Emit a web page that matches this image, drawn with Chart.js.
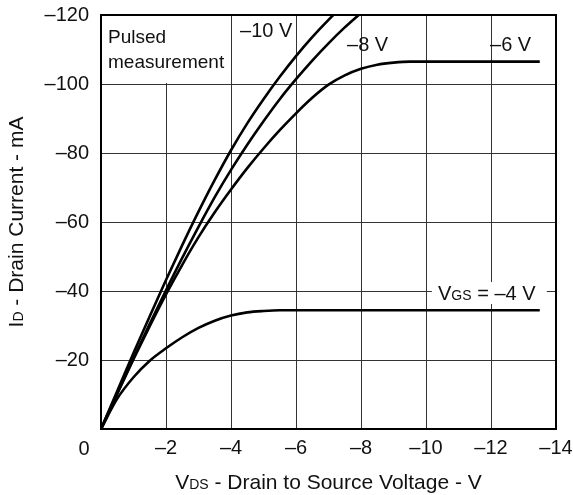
<!DOCTYPE html>
<html>
<head>
<meta charset="utf-8">
<script src="https://cdn.jsdelivr.net/npm/chart.js@4/dist/chart.umd.min.js"></script>
<style>
  html, body { margin: 0; padding: 0; background: #fff; }
  #wrap { width: 573px; height: 495px; }
</style>
</head>
<body>
<div id="wrap"><canvas id="ids"></canvas></div>
<script>
// V_DS (V) and I_D (mA)
const vds10 = [0, -0.5, -1, -1.5, -2, -2.5, -3, -3.5, -4, -4.5, -5, -5.5, -6, -6.5, -7, -7.5]
const id10 = [0, -11, -22, -32.7, -43.2, -53.3, -63, -72.2, -80.8, -88.6, -95.6, -102.1, -108.1, -113.6, -118.6, -123.2]

const vds8 = [0, -0.5, -1, -1.5, -2, -2.5, -3, -3.5, -4, -4.5, -5, -5.5, -6, -6.5, -7, -7.5, -8]
const id8 = [0, -10.3, -20.5, -30.5, -40.2, -49.6, -58.6, -67.2, -75.1, -82.4, -89.2, -95.6, -101.4, -106.8, -111.8, -116.4, -120.6]

const vds6 = [0, -0.5, -1, -1.5, -2, -2.5, -3, -3.5, -4, -4.5, -5, -5.5, -6, -6.5, -7, -7.5, -8, -8.5, -9, -9.5, -13.5]
const id6 = [0, -10.2, -20.2, -29.8, -39, -47.6, -55.6, -62.8, -69.4, -75.6, -81.3, -86.6, -91.5, -96, -99.8, -102.5, -104.4, -105.6, -106.2, -106.5, -106.5]

const vds4 = [0, -0.5, -1, -1.5, -2, -2.5, -3, -3.5, -4, -4.5, -5, -5.5, -6, -13.5]
const id4 = [0, -8.8, -15, -19.8, -23.4, -26.6, -29.3, -31.4, -32.9, -33.8, -34.2, -34.4, -34.4, -34.4]

const xTicks = [0, -2, -4, -6, -8, -10, -12, -14]
const yTicks = [-20, -40, -60, -80, -100, -120]

const FONT = "'Liberation Sans', Arial, sans-serif"
const dash = v => (v === 0 ? '0' : '\u2013' + Math.abs(v))

const pts = (xs, ys) => xs.map((x, i) => ({ x: x, y: ys[i] }))
const curve = (label, xs, ys) => ({
  label: label,
  data: pts(xs, ys),
  borderColor: '#000',
  borderWidth: 2.6,
  pointRadius: 0,
  fill: false,
  cubicInterpolationMode: 'monotone',
})

// text with a smaller subscript part, e.g. V + DS
function subText(ctx, parts, x, y, align) {
  let w = 0
  parts.forEach(p => { ctx.font = p[1] + 'px ' + FONT; w += ctx.measureText(p[0]).width })
  let cx = align === 'center' ? x - w / 2 : x
  ctx.textAlign = 'left'
  parts.forEach(p => {
    ctx.font = p[1] + 'px ' + FONT
    ctx.fillText(p[0], cx, y)
    cx += ctx.measureText(p[0]).width
  })
}

// labels may hang over the plot edges, like in the print
const noOverhang = s => {
  s.paddingTop = 0
  s.paddingBottom = 0
  s.paddingLeft = 0
  s.paddingRight = 0
}

const notes = {
  id: 'notes',
  beforeDatasetsDraw(chart) {
    const { ctx, chartArea: a, scales: { x, y } } = chart
    ctx.save()
    ctx.fillStyle = '#fff'
    // box behind "Pulsed measurement"
    ctx.fillRect(a.left, a.top, x.getPixelForValue(-3.95) - a.left, y.getPixelForValue(-100.3) - a.top)
    // box behind the V_GS label
    ctx.fillRect(x.getPixelForValue(-10.18), y.getPixelForValue(-42.6), 115, 22)
    ctx.restore()
  },
  afterDraw(chart) {
    const { ctx, chartArea: a, scales: { x, y } } = chart
    ctx.save()
    // frame
    ctx.strokeStyle = '#000'
    ctx.lineWidth = 2
    ctx.strokeRect(a.left, a.top, a.right - a.left, a.bottom - a.top)

    ctx.fillStyle = '#111'
    ctx.textBaseline = 'middle'
    ctx.textAlign = 'left'
    ctx.font = '19px ' + FONT
    ctx.fillText('Pulsed', a.left + 7, a.top + 23)
    ctx.fillText('measurement', a.left + 7, a.top + 48)

    ctx.font = '20px ' + FONT
    ctx.fillText('\u201310 V', x.getPixelForValue(-4.28), y.getPixelForValue(-115.1))
    ctx.fillText('\u20138 V', x.getPixelForValue(-7.57), y.getPixelForValue(-111.3))
    ctx.fillText('\u20136 V', x.getPixelForValue(-11.97), y.getPixelForValue(-111.3))

    ctx.textBaseline = 'alphabetic'
    const gy = y.getPixelForValue(-39.4) + 7
    subText(ctx, [['V', 20], ['GS', 14], [' = \u20134 V', 20]], x.getPixelForValue(-10.37), gy, 'left')

    // origin label, set apart from the axis
    ctx.font = '20px ' + FONT
    ctx.textAlign = 'center'
    ctx.fillText('0', a.left - 17, a.bottom + 26)

    // axis titles
    subText(ctx, [['V', 21], ['DS', 14], [' - Drain to Source Voltage - V', 21]], (a.left + a.right) / 2, 489, 'center')
    ctx.translate(23, (a.top + a.bottom) / 2)
    ctx.rotate(-Math.PI / 2)
    subText(ctx, [['I', 21], ['D', 14], [' - Drain Current - mA', 21]], 0, 0, 'center')
    ctx.restore()
  },
}

const cfg = {
  type: 'line',
  data: {
    datasets: [
      curve('\u201310 V', vds10, id10),
      curve('\u20138 V', vds8, id8),
      curve('\u20136 V', vds6, id6),
      curve('\u20134 V', vds4, id4),
    ],
  },
  options: {
    responsive: true,
    maintainAspectRatio: false,
    animation: false,
    layout: { padding: { top: 15, right: 17, left: 0, bottom: 0 } },
    plugins: { legend: { display: false }, tooltip: { enabled: false } },
    scales: {
      x: {
        type: 'linear',
        reverse: true,
        min: -14,
        max: 0,
        afterBuildTicks: s => { s.ticks = xTicks.map(v => ({ value: v })) },
        afterFit: s => { s.height = 66; noOverhang(s) },
        ticks: {
          color: '#111',
          padding: 7,
          font: { family: FONT, size: 20 },
          callback: v => (v === 0 ? '' : dash(v)),
        },
        grid: { color: '#333', lineWidth: 1, drawTicks: false },
        border: { display: false },
      },
      y: {
        type: 'linear',
        reverse: true,
        min: -120,
        max: 0,
        afterBuildTicks: s => { s.ticks = [0].concat(yTicks).map(v => ({ value: v })) },
        afterFit: s => { s.width = 101; noOverhang(s) },
        ticks: {
          color: '#111',
          padding: 12,
          font: { family: FONT, size: 20 },
          callback: v => (v === 0 ? '' : dash(v)),
        },
        grid: { color: '#333', lineWidth: 1, drawTicks: false },
        border: { display: false },
      },
    },
  },
  plugins: [notes],
}

new Chart(document.getElementById('ids'), cfg)
</script>
</body>
</html>
